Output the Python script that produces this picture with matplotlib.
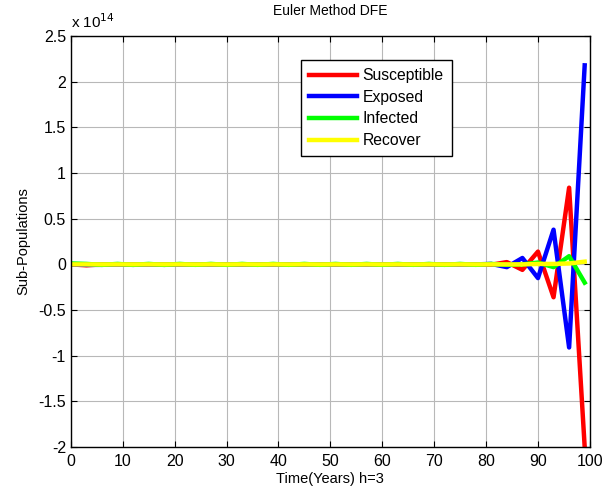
import numpy as np
import matplotlib.pyplot as plt

plt.rcParams['font.family'] = ['Liberation Sans', 'DejaVu Sans']

# -------------------------
# Data (Euler, h=3), values in units of 1e14
# -------------------------
t = list(range(0, 100, 3))  # 0..99, 34 points

susceptible = [0.0, -0.01, 0.0, 0.0, 0.0, 0.0, 0.0, 0.0, 0.0, 0.0,
               0.0, 0.0, 0.0, 0.0, 0.0, 0.0, 0.0, 0.0, 0.0, 0.0,
               0.0, 0.0, 0.0, 0.0, 0.0, 0.0, 0.0, -0.004, 0.025, -0.06,
               0.14, -0.36, 0.84, -2.0]
exposed = [0.0, -0.005, -0.005, 0.0, -0.005, 0.0, -0.005, 0.0, 0.0, 0.0,
           0.0, 0.0, 0.0, 0.0, 0.0, 0.0, 0.0, 0.0, 0.0, 0.0,
           0.0, 0.0, 0.0, 0.0, 0.0, 0.0, 0.0, 0.005, -0.03, 0.07,
           -0.15, 0.38, -0.91, 2.18]
infected = [0.01, 0.005, -0.005, 0.005, -0.005, 0.005, -0.005, 0.005, -0.005, 0.005,
            -0.005, 0.005, -0.005, 0.005, -0.005, 0.005, -0.005, 0.005, -0.005, 0.005,
            -0.005, 0.005, -0.005, 0.005, -0.005, 0.005, -0.005, 0.005, -0.005, 0.0,
            0.02, -0.03, 0.09, -0.2]
recover = [0.0, 0.0, 0.0, 0.0, 0.0, 0.0, 0.0, 0.0, 0.0, 0.0,
           0.0, 0.0, 0.0, 0.0, 0.0, 0.0, 0.0, 0.0, 0.0, 0.0,
           0.0, 0.0, 0.0, 0.0, 0.0, 0.0, 0.0, 0.0, 0.0, 0.0,
           0.005, 0.005, 0.01, 0.03]

# -------------------------
# Plot
# -------------------------
fig = plt.figure(figsize=(6.05, 4.95), dpi=100)
ax = fig.add_axes([0.117, 0.097, 0.858, 0.830])

ax.plot(t, susceptible, color='#ff0000', lw=3.2, label='Susceptible')
ax.plot(t, exposed, color='#0000ff', lw=3.2, label='Exposed')
ax.plot(t, infected, color='#00ff00', lw=3.2, label='Infected')
ax.plot(t, recover, color='#ffff00', lw=3.2, label='Recover')

ax.set_xlim(0, 100)
ax.set_ylim(-2, 2.5)
ax.set_xticks(np.arange(0, 101, 10))
ax.set_yticks(np.arange(-2, 2.51, 0.5))
ax.set_yticklabels(['-2', '-1.5', '-1', '-0.5', '0', '0.5', '1', '1.5', '2', '2.5'])

ax.grid(True, color='#b8b8b8', lw=0.8)
ax.tick_params(direction='in', top=True, right=True, labelsize=11.5, length=4)
ax.tick_params(axis='x', pad=5)
for s in ax.spines.values():
    s.set_linewidth(1.0)

ax.text(0.0, 1.012, r'x 10$^{14}$', transform=ax.transAxes, fontsize=11,
        ha='left', va='bottom')

ax.set_title('Euler Method DFE', fontsize=10, pad=15)
ax.set_xlabel('Time(Years) h=3', fontsize=10.5, labelpad=2)
ax.set_ylabel('Sub-Populations', fontsize=10.5, labelpad=6)

leg = ax.legend(loc='upper left', bbox_to_anchor=(0.443, 0.941), fontsize=11.3,
                handlelength=3.1, handletextpad=0.35, fancybox=False, framealpha=1,
                edgecolor='black', borderpad=0.5, labelspacing=0.42,
                borderaxespad=0)
leg.get_frame().set_linewidth(1.0)

fig.savefig('out.png', dpi=100)
